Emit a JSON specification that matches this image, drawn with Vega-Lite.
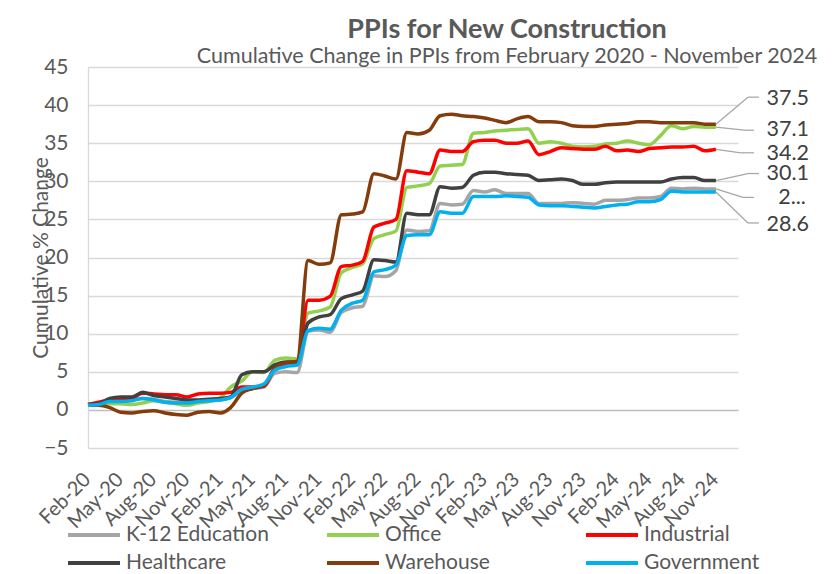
{
  "$schema": "https://vega.github.io/schema/vega-lite/v6.json",
  "width": 650,
  "height": 381,
  "autosize": {"type": "none"},
  "padding": {"left": 88, "top": 67, "right": 101, "bottom": 126},
  "background": "white",
  "config": {"font": "Lato", "view": {"stroke": null}},
  "title": {
    "text": "PPIs for New Construction",
    "subtitle": "Cumulative Change in PPIs from February 2020 - November 2024",
    "font": "Lato", "fontSize": 27, "fontWeight": "bold", "color": "#595959",
    "subtitleFont": "Lato", "subtitleFontSize": 21.5, "subtitleColor": "#595959",
    "anchor": "middle", "frame": "group", "dx": 94, "offset": -12, "subtitlePadding": 2
  },
  "datasets": {
    "ppi": [
      {"date": "2020-02-01", "K-12 Education": 0.6, "Office": 0.7, "Industrial": 0.7, "Healthcare": 0.7, "Warehouse": 0.6, "Government": 0.6},
      {"date": "2020-03-01", "K-12 Education": 0.7, "Office": 0.6, "Industrial": 1.0, "Healthcare": 0.8, "Warehouse": 0.6, "Government": 0.7},
      {"date": "2020-04-01", "K-12 Education": 1.1, "Office": 0.8, "Industrial": 1.3, "Healthcare": 1.5, "Warehouse": 0.3, "Government": 1.1},
      {"date": "2020-05-01", "K-12 Education": 1.2, "Office": 0.8, "Industrial": 1.3, "Healthcare": 1.7, "Warehouse": -0.3, "Government": 1.1},
      {"date": "2020-06-01", "K-12 Education": 1.3, "Office": 0.7, "Industrial": 1.5, "Healthcare": 1.7, "Warehouse": -0.4, "Government": 1.2},
      {"date": "2020-07-01", "K-12 Education": 1.5, "Office": 0.9, "Industrial": 2.2, "Healthcare": 2.3, "Warehouse": -0.2, "Government": 1.5},
      {"date": "2020-08-01", "K-12 Education": 1.4, "Office": 1.2, "Industrial": 2.1, "Healthcare": 1.9, "Warehouse": -0.1, "Government": 1.3},
      {"date": "2020-09-01", "K-12 Education": 1.1, "Office": 1.0, "Industrial": 2.0, "Healthcare": 1.7, "Warehouse": -0.4, "Government": 1.0},
      {"date": "2020-10-01", "K-12 Education": 1.0, "Office": 0.8, "Industrial": 2.0, "Healthcare": 1.5, "Warehouse": -0.6, "Government": 0.9},
      {"date": "2020-11-01", "K-12 Education": 0.9, "Office": 0.6, "Industrial": 1.7, "Healthcare": 1.3, "Warehouse": -0.7, "Government": 0.9},
      {"date": "2020-12-01", "K-12 Education": 1.1, "Office": 0.9, "Industrial": 2.1, "Healthcare": 1.3, "Warehouse": -0.3, "Government": 1.1},
      {"date": "2021-01-01", "K-12 Education": 1.2, "Office": 1.1, "Industrial": 2.2, "Healthcare": 1.4, "Warehouse": -0.2, "Government": 1.2},
      {"date": "2021-02-01", "K-12 Education": 1.3, "Office": 1.6, "Industrial": 2.2, "Healthcare": 1.5, "Warehouse": -0.4, "Government": 1.3},
      {"date": "2021-03-01", "K-12 Education": 1.6, "Office": 3.0, "Industrial": 2.3, "Healthcare": 1.7, "Warehouse": 0.3, "Government": 1.6},
      {"date": "2021-04-01", "K-12 Education": 2.5, "Office": 3.8, "Industrial": 3.0, "Healthcare": 4.6, "Warehouse": 2.2, "Government": 2.7},
      {"date": "2021-05-01", "K-12 Education": 2.8, "Office": 5.0, "Industrial": 3.0, "Healthcare": 5.0, "Warehouse": 2.8, "Government": 3.0},
      {"date": "2021-06-01", "K-12 Education": 3.0, "Office": 4.9, "Industrial": 3.1, "Healthcare": 5.0, "Warehouse": 3.2, "Government": 3.4},
      {"date": "2021-07-01", "K-12 Education": 4.8, "Office": 6.5, "Industrial": 5.4, "Healthcare": 5.9, "Warehouse": 5.5, "Government": 5.2},
      {"date": "2021-08-01", "K-12 Education": 5.0, "Office": 6.8, "Industrial": 6.0, "Healthcare": 6.3, "Warehouse": 6.2, "Government": 5.7},
      {"date": "2021-09-01", "K-12 Education": 4.9, "Office": 6.7, "Industrial": 6.1, "Healthcare": 6.3, "Warehouse": 6.4, "Government": 5.9},
      {"date": "2021-10-01", "K-12 Education": 10.3, "Office": 12.7, "Industrial": 14.4, "Healthcare": 11.4, "Warehouse": 19.6, "Government": 10.4},
      {"date": "2021-11-01", "K-12 Education": 10.5, "Office": 13.0, "Industrial": 14.4, "Healthcare": 12.2, "Warehouse": 19.1, "Government": 10.7},
      {"date": "2021-12-01", "K-12 Education": 10.2, "Office": 13.5, "Industrial": 14.9, "Healthcare": 12.5, "Warehouse": 19.3, "Government": 10.6},
      {"date": "2022-01-01", "K-12 Education": 12.8, "Office": 18.0, "Industrial": 18.8, "Healthcare": 14.6, "Warehouse": 25.6, "Government": 13.1},
      {"date": "2022-02-01", "K-12 Education": 13.4, "Office": 18.7, "Industrial": 19.0, "Healthcare": 15.1, "Warehouse": 25.7, "Government": 14.0},
      {"date": "2022-03-01", "K-12 Education": 13.6, "Office": 19.2, "Industrial": 19.5, "Healthcare": 15.6, "Warehouse": 26.0, "Government": 14.4},
      {"date": "2022-04-01", "K-12 Education": 17.6, "Office": 22.5, "Industrial": 24.0, "Healthcare": 19.7, "Warehouse": 31.0, "Government": 18.1},
      {"date": "2022-05-01", "K-12 Education": 17.5, "Office": 23.0, "Industrial": 24.5, "Healthcare": 19.6, "Warehouse": 30.7, "Government": 18.4},
      {"date": "2022-06-01", "K-12 Education": 18.3, "Office": 23.5, "Industrial": 25.0, "Healthcare": 19.4, "Warehouse": 30.3, "Government": 19.0},
      {"date": "2022-07-01", "K-12 Education": 23.6, "Office": 29.2, "Industrial": 31.4, "Healthcare": 25.8, "Warehouse": 36.4, "Government": 22.9},
      {"date": "2022-08-01", "K-12 Education": 23.4, "Office": 29.4, "Industrial": 31.2, "Healthcare": 25.6, "Warehouse": 36.2, "Government": 23.0},
      {"date": "2022-09-01", "K-12 Education": 23.5, "Office": 29.7, "Industrial": 31.0, "Healthcare": 25.6, "Warehouse": 36.7, "Government": 23.0},
      {"date": "2022-10-01", "K-12 Education": 27.1, "Office": 32.0, "Industrial": 34.1, "Healthcare": 29.3, "Warehouse": 38.6, "Government": 26.0},
      {"date": "2022-11-01", "K-12 Education": 26.9, "Office": 32.1, "Industrial": 33.9, "Healthcare": 29.1, "Warehouse": 38.8, "Government": 25.8},
      {"date": "2022-12-01", "K-12 Education": 27.0, "Office": 32.2, "Industrial": 33.9, "Healthcare": 29.2, "Warehouse": 38.6, "Government": 25.8},
      {"date": "2023-01-01", "K-12 Education": 28.8, "Office": 36.3, "Industrial": 35.2, "Healthcare": 30.8, "Warehouse": 38.5, "Government": 28.0},
      {"date": "2023-02-01", "K-12 Education": 28.6, "Office": 36.4, "Industrial": 35.4, "Healthcare": 31.2, "Warehouse": 38.3, "Government": 28.0},
      {"date": "2023-03-01", "K-12 Education": 28.9, "Office": 36.6, "Industrial": 35.4, "Healthcare": 31.2, "Warehouse": 38.0, "Government": 28.0},
      {"date": "2023-04-01", "K-12 Education": 28.4, "Office": 36.7, "Industrial": 35.0, "Healthcare": 31.0, "Warehouse": 37.7, "Government": 28.1},
      {"date": "2023-05-01", "K-12 Education": 28.4, "Office": 36.8, "Industrial": 35.0, "Healthcare": 30.9, "Warehouse": 38.2, "Government": 28.0},
      {"date": "2023-06-01", "K-12 Education": 28.4, "Office": 36.9, "Industrial": 35.3, "Healthcare": 30.8, "Warehouse": 38.5, "Government": 27.9},
      {"date": "2023-07-01", "K-12 Education": 27.1, "Office": 35.0, "Industrial": 33.5, "Healthcare": 30.1, "Warehouse": 37.8, "Government": 26.9},
      {"date": "2023-08-01", "K-12 Education": 27.1, "Office": 35.2, "Industrial": 33.9, "Healthcare": 30.2, "Warehouse": 37.8, "Government": 26.8},
      {"date": "2023-09-01", "K-12 Education": 27.1, "Office": 35.0, "Industrial": 34.4, "Healthcare": 30.3, "Warehouse": 37.7, "Government": 26.8},
      {"date": "2023-10-01", "K-12 Education": 27.2, "Office": 34.6, "Industrial": 34.3, "Healthcare": 30.1, "Warehouse": 37.3, "Government": 26.7},
      {"date": "2023-11-01", "K-12 Education": 27.1, "Office": 34.5, "Industrial": 34.2, "Healthcare": 29.6, "Warehouse": 37.2, "Government": 26.6},
      {"date": "2023-12-01", "K-12 Education": 27.0, "Office": 34.6, "Industrial": 34.2, "Healthcare": 29.6, "Warehouse": 37.2, "Government": 26.5},
      {"date": "2024-01-01", "K-12 Education": 27.5, "Office": 34.9, "Industrial": 34.6, "Healthcare": 29.8, "Warehouse": 37.4, "Government": 26.7},
      {"date": "2024-02-01", "K-12 Education": 27.5, "Office": 35.0, "Industrial": 34.0, "Healthcare": 29.9, "Warehouse": 37.5, "Government": 26.9},
      {"date": "2024-03-01", "K-12 Education": 27.6, "Office": 35.3, "Industrial": 34.1, "Healthcare": 29.9, "Warehouse": 37.6, "Government": 27.0},
      {"date": "2024-04-01", "K-12 Education": 27.8, "Office": 35.0, "Industrial": 33.9, "Healthcare": 29.9, "Warehouse": 37.8, "Government": 27.3},
      {"date": "2024-05-01", "K-12 Education": 27.8, "Office": 34.8, "Industrial": 34.3, "Healthcare": 29.9, "Warehouse": 37.8, "Government": 27.3},
      {"date": "2024-06-01", "K-12 Education": 28.0, "Office": 36.0, "Industrial": 34.4, "Healthcare": 29.9, "Warehouse": 37.7, "Government": 27.6},
      {"date": "2024-07-01", "K-12 Education": 29.1, "Office": 37.3, "Industrial": 34.5, "Healthcare": 30.3, "Warehouse": 37.7, "Government": 28.7},
      {"date": "2024-08-01", "K-12 Education": 29.0, "Office": 36.9, "Industrial": 34.5, "Healthcare": 30.5, "Warehouse": 37.7, "Government": 28.6},
      {"date": "2024-09-01", "K-12 Education": 29.1, "Office": 37.2, "Industrial": 34.6, "Healthcare": 30.5, "Warehouse": 37.7, "Government": 28.6},
      {"date": "2024-10-01", "K-12 Education": 29.0, "Office": 37.1, "Industrial": 34.0, "Healthcare": 30.1, "Warehouse": 37.5, "Government": 28.6},
      {"date": "2024-11-01", "K-12 Education": 29.0, "Office": 37.1, "Industrial": 34.2, "Healthcare": 30.1, "Warehouse": 37.5, "Government": 28.6}
    ],
    "ends": [
      {"series": "Warehouse", "date": "2024-11-01", "value": 37.5, "label": "37.5"},
      {"series": "Office", "date": "2024-11-01", "value": 37.1, "label": "37.1"},
      {"series": "Industrial", "date": "2024-11-01", "value": 34.2, "label": "34.2"},
      {"series": "Healthcare", "date": "2024-11-01", "value": 30.1, "label": "30.1"},
      {"series": "K-12 Education", "date": "2024-11-01", "value": 29.0, "label": "2..."},
      {"series": "Government", "date": "2024-11-01", "value": 28.6, "label": "28.6"}
    ]
  },
  "encoding": {
    "x": {
      "field": "date", "type": "temporal",
      "scale": {"type": "utc", "domain": [{"year": 2020, "month": 2, "date": 1, "utc": true}, {"year": 2025, "month": 1, "date": 1, "utc": true}]},
      "axis": {
        "title": null,
        "values": [
          {"year": 2020, "month": 2, "date": 1, "utc": true}, {"year": 2020, "month": 5, "date": 1, "utc": true}, {"year": 2020, "month": 8, "date": 1, "utc": true}, {"year": 2020, "month": 11, "date": 1, "utc": true},
          {"year": 2021, "month": 2, "date": 1, "utc": true}, {"year": 2021, "month": 5, "date": 1, "utc": true}, {"year": 2021, "month": 8, "date": 1, "utc": true}, {"year": 2021, "month": 11, "date": 1, "utc": true},
          {"year": 2022, "month": 2, "date": 1, "utc": true}, {"year": 2022, "month": 5, "date": 1, "utc": true}, {"year": 2022, "month": 8, "date": 1, "utc": true}, {"year": 2022, "month": 11, "date": 1, "utc": true},
          {"year": 2023, "month": 2, "date": 1, "utc": true}, {"year": 2023, "month": 5, "date": 1, "utc": true}, {"year": 2023, "month": 8, "date": 1, "utc": true}, {"year": 2023, "month": 11, "date": 1, "utc": true},
          {"year": 2024, "month": 2, "date": 1, "utc": true}, {"year": 2024, "month": 5, "date": 1, "utc": true}, {"year": 2024, "month": 8, "date": 1, "utc": true}, {"year": 2024, "month": 11, "date": 1, "utc": true}
        ],
        "labelExpr": "utcFormat(datum.value, '%b-%y')",
        "labelAngle": -45, "labelFontSize": 20, "labelColor": "#595959", "labelFont": "Lato",
        "labelPadding": 21, "labelOffset": -8, "labelOverlap": false, "labelBound": false, "labelFlush": false,
        "domain": false, "ticks": false, "tickSize": 0, "grid": false
      }
    },
    "y": {
      "field": "value", "type": "quantitative",
      "scale": {"domain": [-5, 45], "nice": false, "zero": false},
      "axis": {
        "values": [-5, 0, 5, 10, 15, 20, 25, 30, 35, 40, 45],
        "labelOverlap": false,
        "grid": true,
        "gridColor": {"condition": {"test": "datum.value === 0", "value": "#BFBFBF"}, "value": "#D9D9D9"},
        "gridWidth": {"condition": {"test": "datum.value === 0", "value": 1.6}, "value": 1.3},
        "domain": true, "domainColor": "#D9D9D9", "domainWidth": 1.3,
        "ticks": false, "tickSize": 0, "labelPadding": 20,
        "labelFontSize": 21, "labelColor": "#595959", "labelFont": "Lato",
        "title": "Cumulative % Change", "titleFontSize": 21, "titleFontWeight": "normal", "titleColor": "#595959", "titleFont": "Lato",
        "titleX": -41, "titleY": 190.5, "titleAngle": -90, "titleAlign": "center", "titleBaseline": "alphabetic"
      }
    }
  },
  "layer": [
    {
      "data": {"name": "ppi"},
      "transform": [{"fold": ["K-12 Education", "Office", "Industrial", "Healthcare", "Warehouse", "Government"], "as": ["series", "value"]}],
      "mark": {"type": "line", "interpolate": "monotone", "strokeWidth": 3.5},
      "encoding": {
        "color": {
          "field": "series", "type": "nominal",
          "scale": {
            "domain": ["K-12 Education", "Office", "Industrial", "Healthcare", "Warehouse", "Government"],
            "range": ["#A5A5A5", "#92D050", "#FF0000", "#404040", "#843C0C", "#00B0F0"]
          },
          "legend": {
            "orient": "none", "legendX": -6, "legendY": 456,
            "direction": "horizontal", "columns": 3, "title": null,
            "symbolType": "M-2.6,0H2.6", "symbolSize": 400, "symbolStrokeWidth": 4,
            "labelFontSize": 21, "labelColor": "#595959", "labelFont": "Lato", "labelOffset": 20,
            "columnPadding": 50, "rowPadding": 6, "gridAlign": "all", "labelLimit": 300, "padding": 0
          }
        }
      }
    },
    {
      "data": {"name": "ends"},
      "transform": [{"filter": "datum.series == 'Warehouse'"}],
      "layer": [
        {"mark": {"type": "rule", "color": "#A6A6A6", "strokeWidth": 1.25, "x2Offset": 32, "y2Offset": -27}, "encoding": {"x2": {"field": "date"}, "y2": {"field": "value"}}},
        {"mark": {"type": "rule", "color": "#A6A6A6", "strokeWidth": 1.25, "xOffset": 32, "yOffset": -27, "x2Offset": 43, "y2Offset": -27}, "encoding": {"x2": {"field": "date"}, "y2": {"field": "value"}}},
        {"mark": {"type": "text", "align": "right", "baseline": "middle", "dx": 93, "dy": -25, "fontSize": 21.5, "font": "Lato", "color": "#404040"}, "encoding": {"text": {"field": "label"}}}
      ]
    },
    {
      "data": {"name": "ends"},
      "transform": [{"filter": "datum.series == 'Office'"}],
      "layer": [
        {"mark": {"type": "rule", "color": "#A6A6A6", "strokeWidth": 1.25, "x2Offset": 28, "y2Offset": 3}, "encoding": {"x2": {"field": "date"}, "y2": {"field": "value"}}},
        {"mark": {"type": "rule", "color": "#A6A6A6", "strokeWidth": 1.25, "xOffset": 28, "yOffset": 3, "x2Offset": 38, "y2Offset": 3}, "encoding": {"x2": {"field": "date"}, "y2": {"field": "value"}}},
        {"mark": {"type": "text", "align": "right", "baseline": "middle", "dx": 93, "dy": 3, "fontSize": 21.5, "font": "Lato", "color": "#404040"}, "encoding": {"text": {"field": "label"}}}
      ]
    },
    {
      "data": {"name": "ends"},
      "transform": [{"filter": "datum.series == 'Industrial'"}],
      "layer": [
        {"mark": {"type": "rule", "color": "#A6A6A6", "strokeWidth": 1.25, "x2Offset": 25, "y2Offset": 3.5}, "encoding": {"x2": {"field": "date"}, "y2": {"field": "value"}}},
        {"mark": {"type": "rule", "color": "#A6A6A6", "strokeWidth": 1.25, "xOffset": 25, "yOffset": 3.5, "x2Offset": 38, "y2Offset": 3.5}, "encoding": {"x2": {"field": "date"}, "y2": {"field": "value"}}},
        {"mark": {"type": "text", "align": "right", "baseline": "middle", "dx": 93, "dy": 5, "fontSize": 21.5, "font": "Lato", "color": "#404040"}, "encoding": {"text": {"field": "label"}}}
      ]
    },
    {
      "data": {"name": "ends"},
      "transform": [{"filter": "datum.series == 'Healthcare'"}],
      "layer": [
        {"mark": {"type": "rule", "color": "#A6A6A6", "strokeWidth": 1.25, "x2Offset": 32, "y2Offset": -7}, "encoding": {"x2": {"field": "date"}, "y2": {"field": "value"}}},
        {"mark": {"type": "rule", "color": "#A6A6A6", "strokeWidth": 1.25, "xOffset": 32, "yOffset": -7, "x2Offset": 43, "y2Offset": -7}, "encoding": {"x2": {"field": "date"}, "y2": {"field": "value"}}},
        {"mark": {"type": "text", "align": "right", "baseline": "middle", "dx": 93, "dy": -6.5, "fontSize": 21.5, "font": "Lato", "color": "#404040"}, "encoding": {"text": {"field": "label"}}}
      ]
    },
    {
      "data": {"name": "ends"},
      "transform": [{"filter": "datum.series == 'K-12 Education'"}],
      "layer": [
        {"mark": {"type": "rule", "color": "#A6A6A6", "strokeWidth": 1.25, "x2Offset": 27, "y2Offset": 8.5}, "encoding": {"x2": {"field": "date"}, "y2": {"field": "value"}}},
        {"mark": {"type": "rule", "color": "#A6A6A6", "strokeWidth": 1.25, "xOffset": 27, "yOffset": 8.5, "x2Offset": 38, "y2Offset": 8.5}, "encoding": {"x2": {"field": "date"}, "y2": {"field": "value"}}},
        {"mark": {"type": "text", "align": "right", "baseline": "middle", "dx": 90, "dy": 9, "fontSize": 21.5, "font": "Lato", "color": "#404040"}, "encoding": {"text": {"field": "label"}}}
      ]
    },
    {
      "data": {"name": "ends"},
      "transform": [{"filter": "datum.series == 'Government'"}],
      "layer": [
        {"mark": {"type": "rule", "color": "#A6A6A6", "strokeWidth": 1.25, "x2Offset": 32, "y2Offset": 31}, "encoding": {"x2": {"field": "date"}, "y2": {"field": "value"}}},
        {"mark": {"type": "rule", "color": "#A6A6A6", "strokeWidth": 1.25, "xOffset": 32, "yOffset": 31, "x2Offset": 43, "y2Offset": 31}, "encoding": {"x2": {"field": "date"}, "y2": {"field": "value"}}},
        {"mark": {"type": "text", "align": "right", "baseline": "middle", "dx": 93, "dy": 33, "fontSize": 21.5, "font": "Lato", "color": "#404040"}, "encoding": {"text": {"field": "label"}}}
      ]
    }
  ]
}
